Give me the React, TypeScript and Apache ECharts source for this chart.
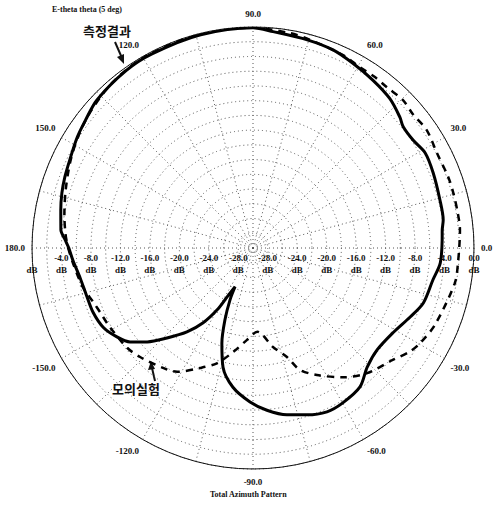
import React, { useEffect, useRef } from "react";
import * as echarts from "echarts";

// Measured azimuth pattern (angle in degrees, gain in dB)
const MEAS_ANGLES = [
  -180, -176, -174.5, -170, -164, -158, -152, -147, -142.6, -138.4, -133.7, -128.2,
  -123.7, -120.1, -117.9, -114.8, -113.9, -111.3, -108.1, -104.1, -98.2, -91.1,
  -85.1, -78.5, -72.1, -65.7, -59.9, -52.4, -46.2, -39.4, -31.3, -23.7, -17.9,
  -10.1, -4.6, 2.4, 5.4, 8.4, 14.4, 22.6, 28.9, 34, 38.9, 41.7, 47.5, 54.5, 61.6,
  68, 75.4, 84.7, 90, 103.8, 117.5, 125.7, 136.5, 142.7, 147.8, 154.3, 159.3,
  163.9, 168.8, 174.6, 177.6, 180,
];
const MEAS_DB = [
  -5.0, -5.5, -5.7, -6.2, -6.5, -6.6, -7.0, -7.9, -9.0, -10.8, -13.1, -15.5,
  -17.8, -20.3, -22.5, -24.2, -22.3, -19.5, -16.4, -13.3, -10.9, -9.1,
  -7.9, -6.9, -6.2, -5.6, -5.7, -6.2, -7.6, -8.2, -7.8, -6.7, -5.7,
  -5.2, -4.5, -4.3, -4.2, -3.9, -3.8, -3.5, -3.3, -3.8, -3.8, -3.3, -2.5, -2.0, -1.5,
  -1.0, -0.8, -0.5, -0.1, -0.2, -0.3, -0.4, -0.8, -1.4, -1.8, -2.4, -2.7,
  -3.0, -3.4, -3.8, -4.5, -5.0,
];

// Simulated azimuth pattern
const SIM_ANGLES = [
  -180, -175, -167, -161.4, -157, -151.1, -141.6, -136, -125.2, -121.5, -113.8,
  -107.4, -100.9, -93.7, -87, -78.6, -72.7, -69, -63.3, -55.1, -47.6, -38.7,
  -33.5, -29.6, -23, -10, -4.2, 5, 9.7, 15.4, 20, 27.3, 34.1, 40, 44.6, 50.2,
  54.5, 59.4, 65, 74.7, 80.2, 90, 105, 120, 130, 140, 148, 155, 163, 170, 176, 180,
];
const SIM_DB = [
  -4.9, -5.5, -6.3, -7.1, -7.5, -7.8, -8.2, -8.7, -9.8, -10.3, -12.2,
  -13.6, -15.6, -17.5, -18.6, -16.3, -14.5, -12.3, -10.7, -8.6, -7.0, -5.7,
  -4.5, -3.9, -3.2, -2.2, -2.1, -1.8, -1.8, -1.8, -1.8, -1.9, -1.5, -1.7, -1.4, -1.6,
  -1.5, -1.5, -1.1, -0.7, -0.4, -0.1, 0, -0.2, -0.5, -1.2, -1.9, -2.6, -3.4, -4.0, -4.5, -4.9,
];

const R_MIN = -30;
const R_MAX = 0;
const R_STEP = 2;

const SERIF = "Liberation Serif";
const CENTER = [253, 248];
const RADIUS = 221;

const fmtAngle = (v: number) => {
  if (v % 30 !== 0) return "";
  const a = v === -180 ? 180 : v;
  return a.toFixed(1);
};

const fmtRadius = (v: number) => (v % 4 === 0 && v !== R_MIN ? `${v.toFixed(1)}\ndB` : "");
const fmtRadiusLeft = (v: number) => {
  if (v === 0) return " \ndB";
  return fmtRadius(v);
};

const labelStyle = {
  fontFamily: SERIF,
  fontSize: 9,
  fontWeight: "bold" as const,
  color: "#111",
  lineHeight: 12,
};

export default function App() {
  const ref = useRef<HTMLDivElement>(null);

  useEffect(() => {
    if (!ref.current) return;
    const chart = echarts.init(ref.current, null, { renderer: "svg" });

    const meas = MEAS_ANGLES.map((a, i) => [MEAS_DB[i], a]);
    const sim = SIM_ANGLES.map((a, i) => [SIM_DB[i], a]);

    chart.setOption({
      animation: false,
      backgroundColor: "#fff",
      polar: [
        { center: CENTER, radius: RADIUS },
        { center: CENTER, radius: RADIUS },
      ],
      angleAxis: [
        {
          polarIndex: 0,
          type: "value",
          min: -180,
          max: 180,
          interval: 15,
          startAngle: 180,
          clockwise: false,
          axisLine: { show: true, lineStyle: { color: "#111", width: 1 } },
          axisTick: { show: false },
          axisLabel: { ...labelStyle, margin: 7, formatter: fmtAngle },
          splitLine: { show: true, lineStyle: { color: "#555", width: 1, type: [1, 3] } },
        },
        {
          polarIndex: 1,
          type: "value",
          min: -180,
          max: 180,
          startAngle: 0,
          show: false,
        },
      ],
      radiusAxis: [
        {
          polarIndex: 0,
          type: "value",
          min: R_MIN,
          max: R_MAX,
          interval: R_STEP,
          axisLine: { show: false },
          axisTick: { show: false },
          axisLabel: { ...labelStyle, margin: 4, formatter: fmtRadiusLeft },
          splitLine: { show: true, lineStyle: { color: "#555", width: 1, type: [1, 3] } },
        },
        {
          polarIndex: 1,
          type: "value",
          min: R_MIN,
          max: R_MAX,
          interval: R_STEP,
          axisLine: { show: false },
          axisTick: { show: false },
          axisLabel: {
            ...labelStyle,
            margin: -4,
            verticalAlign: "top",
            formatter: fmtRadius,
          },
          splitLine: { show: false },
        },
      ],
      series: [
        {
          name: "측정결과",
          type: "line",
          coordinateSystem: "polar",
          polarIndex: 0,
          data: meas,
          smooth: 0.3,
          showSymbol: false,
          lineStyle: { color: "#000", width: 3 },
        },
        {
          name: "모의실험",
          type: "line",
          coordinateSystem: "polar",
          polarIndex: 0,
          data: sim,
          smooth: 0.3,
          showSymbol: false,
          lineStyle: { color: "#000", width: 2.5, type: [7, 6] },
        },
      ],
      graphic: [
        {
          type: "text",
          left: 52,
          top: 5,
          style: { text: "E-theta theta (5 deg)", font: `bold 8px "${SERIF}"`, fill: "#111" },
        },
        {
          type: "text",
          left: 210,
          top: 490,
          style: { text: "Total Azimuth Pattern", font: `bold 8px "${SERIF}"`, fill: "#111" },
        },
        {
          type: "text",
          left: 83,
          top: 24,
          style: { text: "측정결과", font: `bold 13px "Noto Sans CJK KR"`, fill: "#111" },
        },
        {
          type: "line",
          shape: { x1: 115, y1: 42, x2: 122, y2: 58 },
          style: { stroke: "#111", lineWidth: 2 },
        },
        {
          type: "polygon",
          shape: { points: [[117, 57], [124, 54], [124, 64]] },
          style: { fill: "#111" },
        },
        {
          type: "text",
          left: 112,
          top: 382,
          style: { text: "모의실험", font: `bold 13px "Noto Sans CJK KR"`, fill: "#111" },
        },
        {
          type: "line",
          shape: { x1: 155, y1: 381, x2: 152, y2: 368 },
          style: { stroke: "#111", lineWidth: 2 },
        },
        {
          type: "polygon",
          shape: { points: [[148, 370], [155, 369], [151, 361]] },
          style: { fill: "#111" },
        },
      ],
    });

    return () => chart.dispose();
  }, []);

  return (
    <div
      ref={ref}
      style={{ position: "fixed", left: 0, top: 0, width: 494, height: 506 }}
    />
  );
}
